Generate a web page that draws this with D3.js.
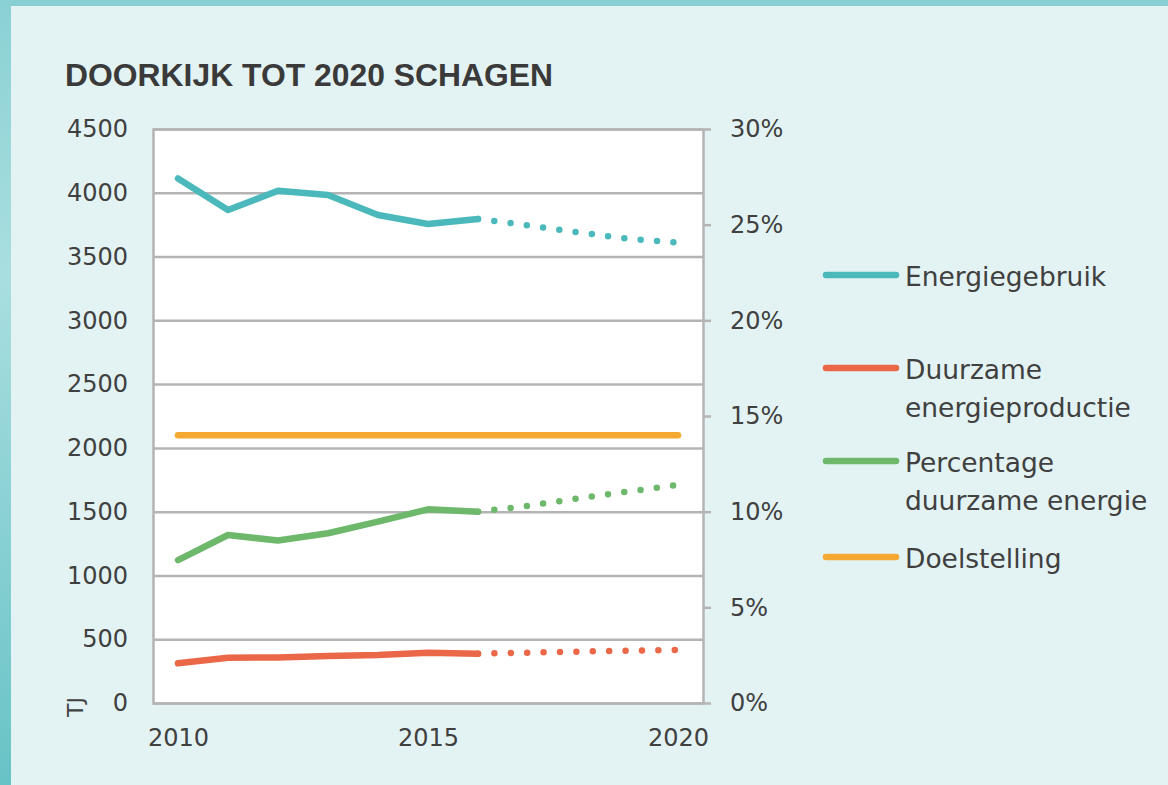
<!DOCTYPE html>
<html lang="nl">
<head>
  <meta charset="UTF-8">
  <title>Doorkijk tot 2020 Schagen</title>
  <style>
    body { margin: 0; background: #e3f3f3; }
    svg { display: block; }
  </style>
</head>
<body>
  <script src="https://d3js.org/d3.v7.min.js"></script>
  <script>
    const width = 1168;
    const height = 785;

    // data
    const years = [2010, 2011, 2012, 2013, 2014, 2015, 2016, 2017, 2018, 2019, 2020];
    const lastMeasured = 2016;
    const energiegebruik = [4112, 3865, 4016, 3982, 3826, 3755, 3794, 3745, 3690, 3640, 3610];
    const duurzameProductie = [311, 355, 357, 368, 376, 394, 387, 395, 403, 410, 416];
    const percentageDuurzaam = [7.47, 8.78, 8.49, 8.87, 9.48, 10.12, 10.0, 10.3, 10.7, 11.05, 11.4];
    const doelstelling = [14, 14, 14, 14, 14, 14, 14, 14, 14, 14, 14];
    const leftTicks = [0, 500, 1000, 1500, 2000, 2500, 3000, 3500, 4000, 4500];
    const rightTicks = [0, 5, 10, 15, 20, 25, 30];
    const yearTicks = [2010, 2015, 2020];

    const series = [
      { name: ['Energiegebruik'], values: energiegebruik, axis: 'left', color: '#4bb9bc', legendY: 275 },
      { name: ['Duurzame', 'energieproductie'], values: duurzameProductie, axis: 'left', color: '#ea6848', legendY: 368 },
      { name: ['Percentage', 'duurzame energie'], values: percentageDuurzaam, axis: 'right', color: '#6db86a', legendY: 461 },
      { name: ['Doelstelling'], values: doelstelling, axis: 'right', color: '#f5a933', legendY: 557, noForecast: true }
    ];

    const plot = { left: 153, right: 703, top: 129, bottom: 703 };
    const font = '"DejaVu Sans", sans-serif';
    const textColor = '#404040';
    const gridColor = '#b4b4b4';

    const x = d3.scaleLinear().domain([2009.5, 2020.5]).range([plot.left, plot.right]);
    const yLeft = d3.scaleLinear().domain([0, 4500]).range([plot.bottom, plot.top]);
    const yRight = d3.scaleLinear().domain([0, 30]).range([plot.bottom, plot.top]);

    const svg = d3.select('body').append('svg')
      .attr('width', width)
      .attr('height', height);

    // frame: top bar and gradient left bar
    const defs = svg.append('defs');
    const grad = defs.append('linearGradient')
      .attr('id', 'sideGrad')
      .attr('x1', 0).attr('y1', 0).attr('x2', 0).attr('y2', 1);
    grad.append('stop').attr('offset', '0%').attr('stop-color', '#8ad1d4');
    grad.append('stop').attr('offset', '35%').attr('stop-color', '#a9dee0');
    grad.append('stop').attr('offset', '100%').attr('stop-color', '#68c3c6');

    svg.append('rect').attr('x', 0).attr('y', 0).attr('width', width).attr('height', height).attr('fill', '#e3f3f3');
    svg.append('rect').attr('x', 0).attr('y', 0).attr('width', width).attr('height', 6).attr('fill', '#86d0d3');
    svg.append('rect').attr('x', 0).attr('y', 0).attr('width', 11).attr('height', height).attr('fill', 'url(#sideGrad)');

    // title (condensed look: big font squeezed to the measured width)
    svg.append('text')
      .attr('x', 65)
      .attr('y', 86)
      .attr('font-family', '"Liberation Sans Narrow", "Liberation Sans", sans-serif')
      .attr('font-weight', 'bold')
      .attr('font-size', 32)
      .attr('fill', '#3a3a3a')
      .attr('textLength', 488)
      .attr('lengthAdjust', 'spacingAndGlyphs')
      .text('DOORKIJK TOT 2020 SCHAGEN');

    // plot background
    svg.append('rect')
      .attr('x', plot.left).attr('y', plot.top)
      .attr('width', plot.right - plot.left).attr('height', plot.bottom - plot.top)
      .attr('fill', '#ffffff');

    // gridlines + left axis
    const leftAxis = d3.axisLeft(yLeft)
      .tickValues(leftTicks)
      .tickSize(-(plot.right - plot.left))
      .tickPadding(25)
      .tickFormat(d3.format('d'));
    const gLeft = svg.append('g')
      .attr('transform', `translate(${plot.left},0)`)
      .call(leftAxis);
    gLeft.select('.domain').attr('stroke', gridColor).attr('stroke-width', 2.5);
    gLeft.selectAll('.tick line').attr('stroke', gridColor).attr('stroke-width', 2.5);
    gLeft.selectAll('.tick text')
      .attr('font-family', font).attr('font-size', 24).attr('fill', textColor);

    // right axis
    const rightAxis = d3.axisRight(yRight)
      .tickValues(rightTicks)
      .tickSize(8)
      .tickSizeOuter(0)
      .tickPadding(19)
      .tickFormat(d => d + '%');
    const gRight = svg.append('g')
      .attr('transform', `translate(${plot.right},0)`)
      .call(rightAxis);
    gRight.select('.domain').attr('stroke', gridColor).attr('stroke-width', 2.5);
    gRight.selectAll('.tick line').attr('stroke', gridColor).attr('stroke-width', 2.5);
    gRight.selectAll('.tick text')
      .attr('font-family', font).attr('font-size', 24).attr('fill', textColor);

    // bottom axis (labels only)
    const bottomAxis = d3.axisBottom(x)
      .tickValues(yearTicks)
      .tickSize(0)
      .tickPadding(26)
      .tickFormat(d3.format('d'));
    const gBottom = svg.append('g')
      .attr('transform', `translate(0,${plot.bottom})`)
      .call(bottomAxis);
    gBottom.select('.domain').remove();
    gBottom.selectAll('.tick text')
      .attr('font-family', font).attr('font-size', 24).attr('fill', textColor);

    // unit label
    svg.append('text')
      .attr('transform', 'translate(83,707) rotate(-90)')
      .attr('text-anchor', 'middle')
      .attr('font-family', font).attr('font-size', 22).attr('fill', textColor)
      .text('TJ');

    // lines: solid for measured years, dotted for the projection
    series.forEach(s => {
      const yScale = s.axis === 'left' ? yLeft : yRight;
      const pts = years.map((yr, i) => ({ year: yr, value: s.values[i] }));
      const line = d3.line().x(d => x(d.year)).y(d => yScale(d.value));
      const solid = s.noForecast ? pts : pts.filter(d => d.year <= lastMeasured);
      svg.append('path')
        .datum(solid)
        .attr('d', line)
        .attr('fill', 'none')
        .attr('stroke', s.color)
        .attr('stroke-width', 6.5)
        .attr('stroke-linecap', 'round')
        .attr('stroke-linejoin', 'round');
      if (!s.noForecast) {
        svg.append('path')
          .datum(pts.filter(d => d.year >= lastMeasured))
          .attr('d', line)
          .attr('fill', 'none')
          .attr('stroke', s.color)
          .attr('stroke-width', 6.5)
          .attr('stroke-linecap', 'round')
          .attr('stroke-dasharray', '0,16.4');
      }
    });

    // legend
    const legend = svg.append('g');
    series.forEach(s => {
      legend.append('line')
        .attr('x1', 826).attr('x2', 896)
        .attr('y1', s.legendY).attr('y2', s.legendY)
        .attr('stroke', s.color)
        .attr('stroke-width', 6.5)
        .attr('stroke-linecap', 'round');
      const t = legend.append('text')
        .attr('font-family', font).attr('font-size', 26.5).attr('fill', textColor);
      s.name.forEach((part, i) => {
        t.append('tspan')
          .attr('x', 905)
          .attr('y', s.legendY + 11 + i * 37.5)
          .text(part);
      });
    });
  </script>
</body>
</html>
